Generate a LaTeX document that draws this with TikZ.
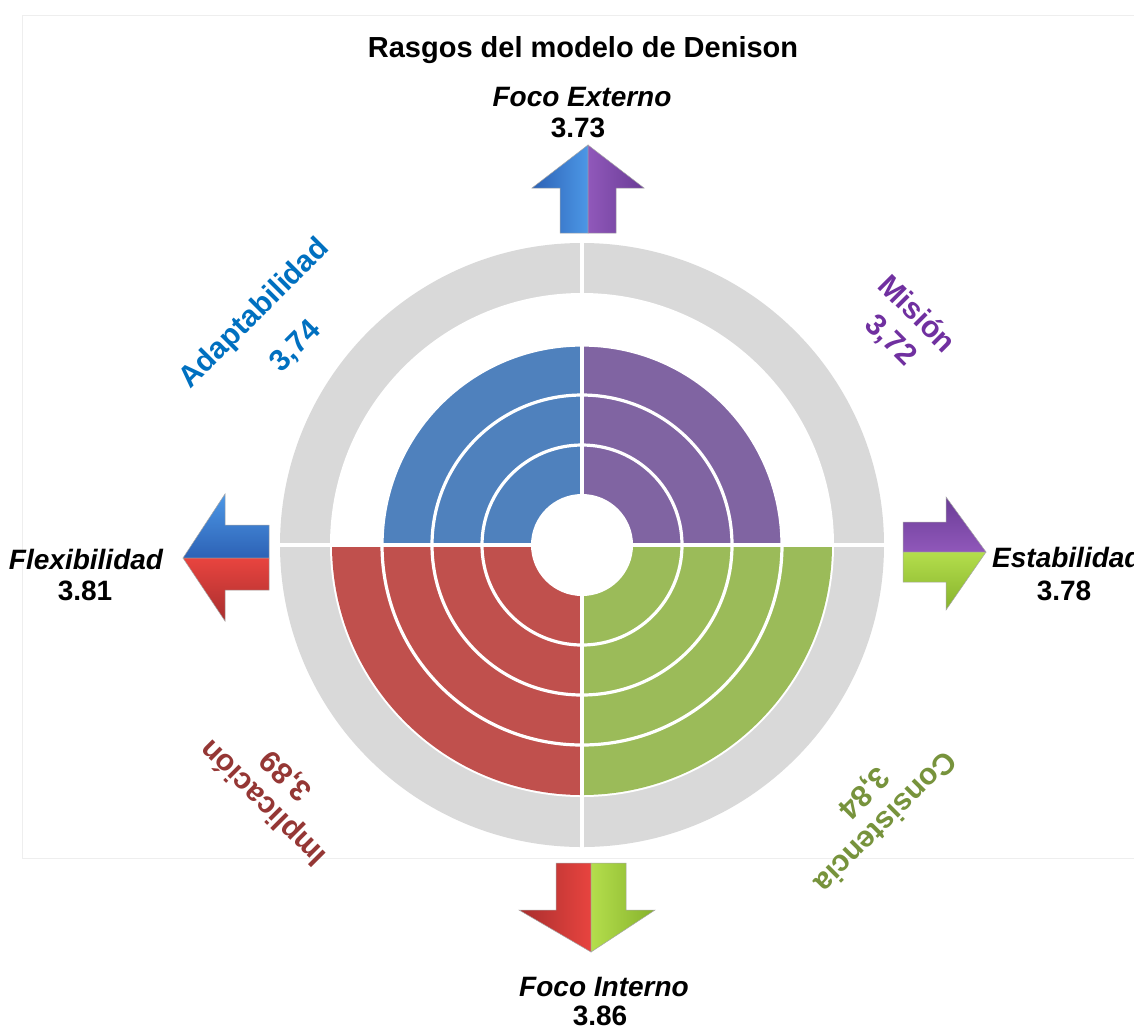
\documentclass[tikz,border=0pt]{standalone}
\usepackage{fontspec}
\usetikzlibrary{calc}
\setmainfont{Liberation Sans}
\definecolor{ringgray}{HTML}{D9D9D9}
\definecolor{framegray}{HTML}{EEEEEE}
\definecolor{qblue}{HTML}{4F81BD}
\definecolor{qpurple}{HTML}{8064A2}
\definecolor{qred}{HTML}{C0504D}
\definecolor{qgreen}{HTML}{9BBB59}
\definecolor{tblue}{HTML}{0070C0}
\definecolor{tpurple}{HTML}{7030A0}
\definecolor{tred}{HTML}{953735}
\definecolor{tgreen}{HTML}{77933C}
\definecolor{abdark}{HTML}{2D62B5}
\definecolor{ablight}{HTML}{4C97E6}
\definecolor{apdark}{HTML}{6A3C96}
\definecolor{aplight}{HTML}{9058BA}
\definecolor{ardark}{HTML}{A82E2E}
\definecolor{arlight}{HTML}{E8443F}
\definecolor{agdark}{HTML}{86B22C}
\definecolor{aglight}{HTML}{B4DE4C}
\tikzset{
  axislbl/.style={font=\fontsize{28}{30}\selectfont\bfseries\itshape, inner sep=0pt},
  axisval/.style={font=\fontsize{28}{30}\selectfont\bfseries, inner sep=0pt},
  traitlbl/.style={font=\fontsize{30}{32}\selectfont\bfseries, inner sep=0pt},
  titlelbl/.style={font=\fontsize{29}{31}\selectfont\bfseries, inner sep=0pt},
  arrowpart/.style={draw=black!35, line width=0.5pt},
  whiteline/.style={draw=white, line width=3.2pt},
}
\begin{document}
\begin{tikzpicture}[x=1pt,y=-1pt]
\useasboundingbox (0,0) rectangle (1134,1029);
\fill[white] (0,0) rectangle (1134,1029);
\draw[framegray, line width=0.8pt] (22,15) rectangle (1150,858);

% ---- rings ----
\coordinate (c) at (582,545);
\fill[ringgray] (c) circle[radius=302];
\fill[white] (c) circle[radius=252];
\begin{scope}
  \clip (c) rectangle ++(-320,320);
  \fill[qred] (c) circle[radius=250];
\end{scope}
\begin{scope}
  \clip (c) rectangle ++(320,320);
  \fill[qgreen] (c) circle[radius=250];
\end{scope}
\begin{scope}
  \clip (c) rectangle ++(-320,-320);
  \fill[qblue] (c) circle[radius=200];
\end{scope}
\begin{scope}
  \clip (c) rectangle ++(320,-320);
  \fill[qpurple] (c) circle[radius=200];
\end{scope}
\draw[whiteline] (c) circle[radius=100];
\draw[whiteline] (c) circle[radius=150];
\draw[whiteline] (c) circle[radius=200];
\fill[white] (c) circle[radius=51];
\draw[whiteline] ($(c)+(-310,0)$) -- ($(c)+(310,0)$);
\draw[whiteline] ($(c)+(0,-310)$) -- ($(c)+(0,310)$);

% ---- arrows ----
% up
\shadedraw[arrowpart, left color=abdark, right color=ablight]
  (588,145) -- (532,188) -- (560,188) -- (560,233) -- (588,233) -- cycle;
\shadedraw[arrowpart, left color=aplight, right color=apdark]
  (588,145) -- (644,188) -- (616,188) -- (616,233) -- (588,233) -- cycle;
% left
\shadedraw[arrowpart, top color=ablight, bottom color=abdark]
  (183,558) -- (225,494) -- (225,525) -- (269,525) -- (269,558) -- cycle;
\shadedraw[arrowpart, top color=arlight, bottom color=ardark]
  (183,558) -- (225,621) -- (225,590) -- (269,590) -- (269,558) -- cycle;
% right
\shadedraw[arrowpart, top color=apdark, bottom color=aplight]
  (986,552) -- (946,497) -- (946,522) -- (903,522) -- (903,552) -- cycle;
\shadedraw[arrowpart, top color=aglight, bottom color=agdark]
  (986,552) -- (946,610) -- (946,582) -- (903,582) -- (903,552) -- cycle;
% down
\shadedraw[arrowpart, left color=ardark, right color=arlight]
  (591,952) -- (519,910) -- (556,910) -- (556,863) -- (591,863) -- cycle;
\shadedraw[arrowpart, left color=aglight, right color=agdark]
  (591,952) -- (655,910) -- (626,910) -- (626,863) -- (591,863) -- cycle;

% ---- texts ----
\node[titlelbl, anchor=base] (title) at (583,57) {Rasgos del modelo de Denison};
\node[axislbl, anchor=base] (fext) at (582,106) {Foco Externo};
\node[axisval, anchor=base] (vext) at (578,137) {3.73};
\node[axislbl, anchor=base] (flex) at (86,569) {Flexibilidad};
\node[axisval, anchor=base] (vflex) at (85,600) {3.81};
\node[axislbl, anchor=base west] (estab) at (992,567) {Estabilidad};
\node[axisval, anchor=base] (vestab) at (1064,600) {3.78};
\node[axislbl, anchor=base] (fint) at (604,996) {Foco Interno};
\node[axisval, anchor=base] (vint) at (600,1025) {3.86};

\node[traitlbl, tblue, rotate=45] (adapt) at (255,314) {Adaptabilidad};
\node[traitlbl, tblue, rotate=45] (vadapt) at (296,347) {3,74};
\node[traitlbl, tpurple, rotate=-45] (mision) at (918,313) {Misión};
\node[traitlbl, tpurple, rotate=-45] (vmision) at (890,341) {3,72};
\node[traitlbl, tred, rotate=135] (impl) at (264,802) {Implicación};
\node[traitlbl, tred, rotate=135] (vimpl) at (287,775) {3,89};
\node[traitlbl, tgreen, rotate=-135] (cons) at (886,823) {Consistencia};
\node[traitlbl, tgreen, rotate=-135] (vcons) at (863,792) {3,84};
\end{tikzpicture}
\end{document}
